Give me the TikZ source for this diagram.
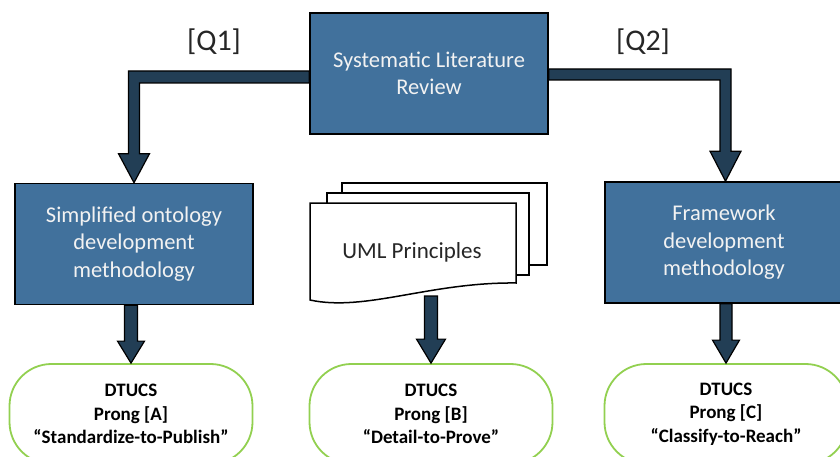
\documentclass[tikz,border=0pt]{standalone}
\usepackage{fontspec}
\setmainfont{Carlito}
\usetikzlibrary{calc}
\definecolor{boxblue}{HTML}{41719C}
\definecolor{arrowdark}{HTML}{223E55}
\definecolor{prongreen}{HTML}{92D050}
\definecolor{txtgray}{HTML}{262626}
\newcommand{\dnarrow}[5]{\draw[bigarrow] ($(#2|-#1)+(-#3,0)$) -- ($(#2)+(-#3,-#5)$) -- ($(#2)+(-#4,-#5)$) -- (#2) -- ($(#2)+(#4,-#5)$) -- ($(#2)+(#3,-#5)$) -- ($(#2|-#1)+(#3,0)$) -- cycle;}
\begin{document}
\begin{tikzpicture}[x=1pt,y=-1pt,
  bluebox/.style={draw=black, line width=1.6pt, fill=boxblue, text=white!95!black, minimum width=238pt, minimum height=121pt, align=center, font=\fontsize{22.5}{27.5}\selectfont, inner sep=0pt},
  prong/.style={draw=prongreen, line width=1.8pt, fill=white, rounded corners=42pt, minimum width=243pt, minimum height=100pt, align=center, font=\bfseries\fontsize{19}{23.5}\selectfont, inner sep=0pt},
  bigarrow/.style={draw=black, line width=1.2pt, fill=arrowdark, line join=miter},
  qlabel/.style={text=txtgray, font=\fontsize{30}{36}\selectfont, inner sep=0pt},
  page/.style={draw=black, line width=1.5pt, fill=white, line join=miter}]
\useasboundingbox (0,0) rectangle (840,457);
\clip (0,0) rectangle (840,457);
\fill[white] (0,0) rectangle (840,457);

% stacked document pages
\draw[page] (342,183) rectangle (547,265);
\draw[page] (327,193) rectangle (529,275);
\draw[page] (310,203) -- (516,203) -- (516,283) .. controls (430,282) and (365,312) .. (310,300) -- cycle;
\node[text=txtgray, font=\fontsize{23}{28}\selectfont, inner sep=0pt] (uml) at (412,252) {UML Principles};
\coordinate (docb) at (429,296);

% blue boxes
\node[bluebox] (slr) at (429,73.5) {Systematic Literature\\Review};
\node[bluebox] (sod) at (134,244) {Simplified ontology\\development\\methodology};
\node[bluebox] (fw) at (724,242.5) {Framework\\development\\methodology};

% prong nodes
\node[prong] (pa) at (131,414) {DTUCS\\Prong [A]\\“Standardize-to-Publish”};
\node[prong] (pb) at (431,414) {DTUCS\\Prong [B]\\“Detail-to-Prove”};
\node[prong] (pc) at (726,414) {DTUCS\\Prong [C]\\“Classify-to-Reach”};

% labels
\node[qlabel] (q1) at (214,42) {[Q1]};
\node[qlabel] (q2) at (643,42) {[Q2]};

% elbow arrows from the review box
\draw[bigarrow] ($(slr.west)+(0,-2.5)$) -- ($(sod.north|-slr.west)+(-5.5,-2.5)$) -- ($(sod.north)+(-5.5,-29)$) -- ($(sod.north)+(-15.5,-29)$) -- (sod.north) -- ($(sod.north)+(15.5,-29)$) -- ($(sod.north)+(5.5,-29)$) -- ($(sod.north|-slr.west)+(5.5,9.5)$) -- ($(slr.west)+(0,9.5)$) -- cycle;
\draw[bigarrow] ($(slr.east)+(0,-4.5)$) -- ($(fw.north|-slr.east)+(7,-4.5)$) -- ($(fw.north)+(7,-30)$) -- ($(fw.north)+(17,-30)$) -- ($(fw.north)+(1.5,0)$) -- ($(fw.north)+(-14,-30)$) -- ($(fw.north)+(-4,-30)$) -- ($(fw.north|-slr.east)+(-4,6.5)$) -- ($(slr.east)+(0,6.5)$) -- cycle;

% down arrows
\dnarrow{sod.south}{pa.north}{6.5}{13.5}{22}
\dnarrow{docb}{pb.north}{6.5}{14.5}{24}
\dnarrow{fw.south}{pc.north}{6}{13.5}{23}
\end{tikzpicture}
\end{document}
